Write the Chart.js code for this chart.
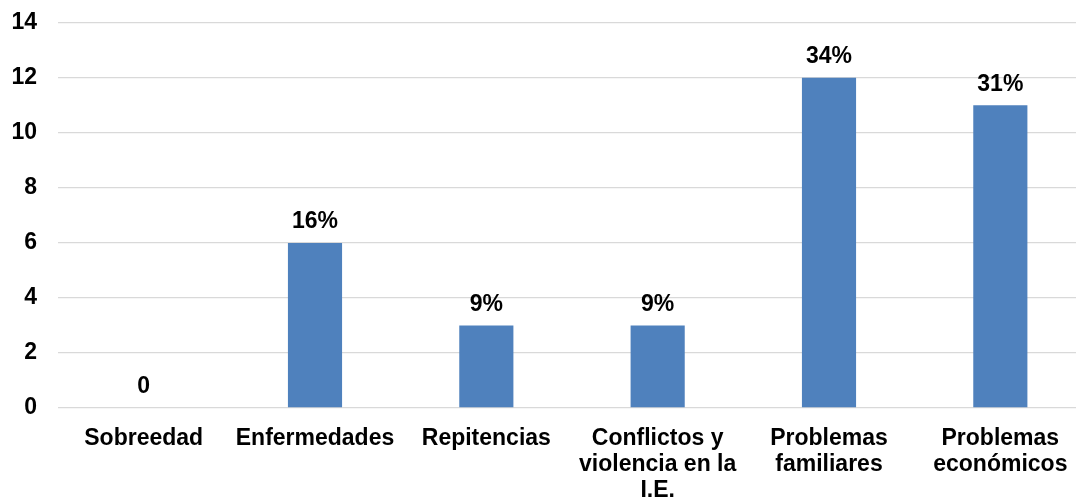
<!DOCTYPE html>
<html>
<head>
<meta charset="utf-8">
<script src="https://cdn.jsdelivr.net/npm/chart.js@4/dist/chart.umd.min.js"></script>
<style>
html,body{margin:0;padding:0;background:#fff;overflow:hidden;}
#wrap{width:1076px;height:502px;position:relative;overflow:hidden;}
#c{position:absolute;left:0;top:-12px;}
</style>
</head>
<body>
<div id="wrap"><canvas id="c" width="1086" height="514"></canvas></div>
<script>
const categories = [
  ["Sobreedad"],
  ["Enfermedades"],
  ["Repitencias"],
  ["Conflictos y", "violencia en la", "I.E."],
  ["Problemas", "familiares"],
  ["Problemas", "económicos"]
];
const values = [0, 6, 3, 3, 12, 11];
const valueLabels = ["0", "16%", "9%", "9%", "34%", "31%"];
const yTicks = [0, 2, 4, 6, 8, 10, 12, 14];

const FONT = "'Liberation Sans', Arial, sans-serif";

const dataLabelPlugin = {
  id: 'dataLabels',
  afterDatasetsDraw(chart) {
    const ctx = chart.ctx;
    const meta = chart.getDatasetMeta(0);
    ctx.save();
    ctx.font = "bold 23px " + FONT;
    ctx.fillStyle = "#000";
    ctx.textAlign = "center";
    ctx.textBaseline = "middle";
    meta.data.forEach((el, i) => {
      ctx.fillText(valueLabels[i], el.x, el.y - 21);
    });
    ctx.restore();
  }
};

new Chart(document.getElementById('c'), {
  type: 'bar',
  data: {
    labels: categories,
    datasets: [{
      data: values,
      backgroundColor: '#4F81BD',
      borderWidth: 0,
      barPercentage: 0.316,
      categoryPercentage: 1.0
    }]
  },
  options: {
    responsive: false,
    animation: false,
    layout: { padding: 0 },
    plugins: {
      legend: { display: false },
      tooltip: { enabled: false }
    },
    scales: {
      x: {
        grid: { display: false, drawTicks: false },
        border: { display: false },
        ticks: {
          color: '#000',
          font: { family: FONT, size: 23, weight: 'bold', lineHeight: 1.12 },
          padding: 18,
          maxRotation: 0,
          autoSkip: false
        },
        afterFit(scale) { scale.height = 94; }
      },
      y: {
        min: 0,
        max: 14,
        afterBuildTicks(scale) { scale.ticks = yTicks.map(v => ({ value: v })); },
        grid: { color: '#d9d9d9', lineWidth: 1.3, drawTicks: false },
        border: { display: false },
        ticks: {
          color: '#000',
          font: { family: FONT, size: 23, weight: 'bold' },
          padding: 21
        },
        afterFit(scale) { scale.width = 58; }
      }
    }
  },
  plugins: [dataLabelPlugin]
});
</script>
</body>
</html>
